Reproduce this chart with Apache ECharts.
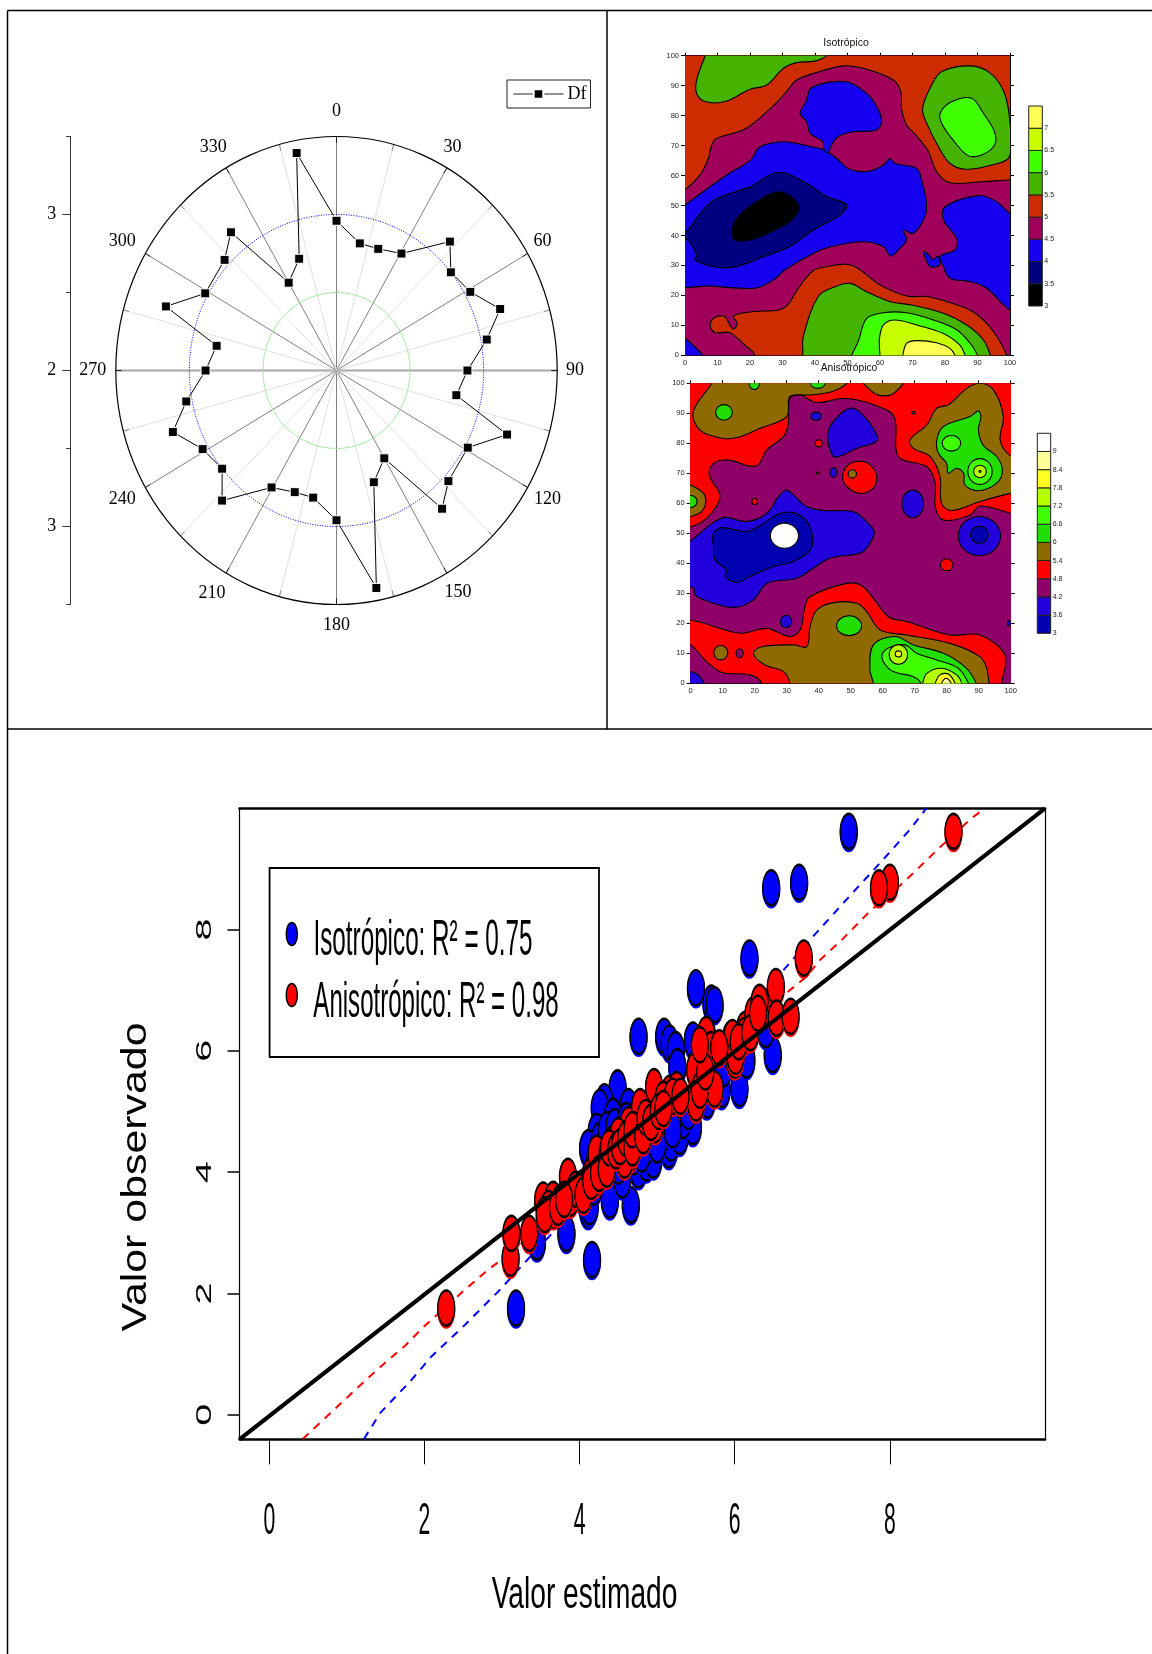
<!DOCTYPE html>
<html>
<head>
<meta charset="utf-8">
<style>html,body{margin:0;padding:0;background:#fff}#c{width:1152px;height:1654px}</style>
<script src="https://cdn.jsdelivr.net/npm/echarts@6/dist/echarts.min.js"></script>
</head>
<body>
<div id="c"></div>
<script>
// ---------- Polar panel ----------
const dfAngles = [0,11,20,30.5,43,51,61,70.5,79,90,101,109.5,119,133,141,150,160.5,169,180,191,200,210.5,223,231,241,250.5,259,270,281,289.5,299,313,321,330,340.5,349];
const dfRadii = [2.96,2.83,2.83,2.87,3.13,3.00,3.04,3.18,3.04,2.89,2.83,3.23,3.02,3.04,3.14,2.65,2.76,3.42,2.96,2.83,2.83,2.87,3.14,3.00,3.04,3.18,3.04,2.89,2.83,3.23,3.02,3.04,3.14,2.65,2.76,3.42];
const spokeAngles = [0,15,30,45,60,75,90,105,120,135,150,165,180,195,210,225,240,255,270,285,300,315,330,345];
const ringRadii = [2.5,3,3.5];
const angleLabels = [0,30,60,90,120,150,180,210,240,270,300,330];
const labelAngles = [0,28.8,59.3,90,119.9,149.8,180,210.7,240.5,270,299.7,329.7];
const labelRadii = [3.663,3.636,3.628,3.621,3.655,3.642,3.636,3.659,3.673,3.657,3.677,3.661];

// ---------- Contour panels: polygons in data units (x, y) ----------
const isoOrangeTop = [[-10,50],[0,55.4],[4.6,60.2],[7.2,65.7],[8.2,70.2],[9.7,72.4],[18.5,75.5],[26.7,82.8],[30.8,87.4],[34.4,91.9],[41.5,94.7],[48.7,96.6],[54.9,95.8],[64.1,91.9],[66.4,88],[66.7,81.9],[68.2,76.9],[71.3,73.2],[74.9,68],[77.4,61.3],[81.5,57.6],[91.8,58],[100,58.5],[112,58.6],[112,112],[-12,112]];
const isoOrangeBottom = [[21.5,0],[18.5,3.4],[14.9,6.8],[13.3,7.7],[9.2,7.6],[7.7,10.1],[9.2,12.7],[12.3,12.9],[13.8,10.1],[14.9,8.7],[16.1,10.7],[14.9,13.1],[21,14.6],[28.7,15.1],[31.8,17.1],[34.9,22.4],[39.5,28.3],[44.6,29.8],[49.7,30.4],[53.3,29],[60,23.5],[68.2,19.8],[74.4,19.6],[81.5,17.6],[87.7,15.1],[92.8,10.7],[96.9,4.6],[99,0],[100.5,-5],[21,-6]];
const isoBlueMain = [[-8,44],[0,50.2],[12.8,60.2],[20,65],[23.1,69.6],[30.3,71.3],[37.4,70],[42.6,68.7],[44.1,67.7],[46.7,65.7],[50.8,62],[56.9,61.5],[61,63.5],[63.1,65.7],[64.6,64.1],[71.3,62.4],[72.8,58.5],[74.2,51.8],[74,46.8],[70.3,40.7],[67.2,41.8],[68.2,38.5],[65.6,35.1],[63.3,33.1],[61,36.3],[54.9,37.9],[45.1,36.3],[39.5,34],[30.8,28.5],[27.2,25.1],[21.5,22.4],[7.2,23.1],[0,22.6],[-8,22.6]];
const isoBlueLobe = [[39,89.4],[49.7,91.3],[55.9,87.4],[59,83],[60.5,78.3],[59,75.2],[51.8,74.6],[47.2,73],[45.1,70.2],[44.1,67.6],[42.8,68.7],[42.4,71.3],[38.5,74.1],[37.4,78],[35.4,80.8],[37.2,84.6]];
const isoBlueRight = [[80,49.6],[90.3,53.3],[95.9,51.3],[100,47.4],[110,42],[110,10],[100,15.1],[92.8,22.4],[87.7,24.6],[81.5,25.7],[79.5,29.6],[78.5,33.1],[83.1,35.2],[83.6,39],[79.5,45.2]];
const isoBlueBlob = [[73.3,34.6],[75,33.6],[76.2,32],[77.9,33.1],[78.3,30.1],[75.4,29.6],[73.8,32.9]];
const isoBlueCorner = [[-6,9],[0,5.7],[5.6,0],[9,-5],[-6,-5]];
const isoNavy = [[-5,36],[0,40.7],[8.2,51.3],[20,56.3],[28.7,61.1],[37.4,57.4],[43.6,53],[49.7,50.2],[47.7,46.8],[39.5,41.8],[32.3,36.3],[24.1,32.9],[15.9,29.6],[9.7,29.4],[3.1,31.8],[3.6,33.5],[0,39]];
const isoBlack = [[15.9,45.7],[25.6,53.5],[30.3,54.3],[34.9,50.2],[33.8,46.3],[29.7,42.9],[20,38.5],[14.9,39]];
const isoGreenTopLeft = [[6.2,100],[3.6,91.9],[3.6,87.4],[6.2,84.7],[12.3,84.7],[20,88.8],[25.1,90.2],[30.3,95.8],[34.4,97.7],[40,98.2],[43.6,100],[48,106],[8,106]];
const isoGreenTopRight = [[79,94.7],[87.2,96.6],[93.3,94.7],[97.9,88.5],[99.8,79.6],[99.8,66.3],[94.4,63.5],[86.2,62.1],[81.5,64.1],[78,69.6],[74.4,77.4],[73.1,82.4],[75.9,90.2]];
const isoBrightTop = [[78.5,80.8],[82,84.6],[88.2,85.8],[91.8,80.8],[95.4,74.1],[94.9,69.6],[90.3,66.5],[86.7,66.9],[82.1,72.4],[79,77.4]];
const isoGreenBottom = [[36.2,0],[36.4,6.2],[41,19.6],[46.2,22.9],[50.8,24],[55.9,21.2],[63.1,17.9],[69.7,16.8],[79.5,14],[86.7,10.1],[91.8,5.1],[94,0],[96,-6],[35,-6]];
const isoBrightBottom = [[51.3,0],[53.3,4.6],[55.9,12.3],[61,14.2],[68.2,14.2],[76.4,11.8],[83.6,8.5],[88.2,3.4],[90,0],[92,-5],[50,-5]];
const isoLime = [[60,0],[59.8,5.1],[61,10.1],[64.6,11.8],[71.3,10.1],[79.5,7.3],[84.6,3.4],[86.2,0],[88,-5],[60,-5]];
const isoYellow = [[67,0],[68.2,4],[71.3,4.9],[77.4,4.2],[81.5,2.3],[83.1,0],[85,-5],[66,-5]];

const aniRedTop = [[-10,50],[0,52.2],[5,55],[9.2,62.2],[5.8,69.4],[7.1,73.3],[11.8,74.4],[18.5,72.4],[21.1,72.8],[23.8,77.8],[29,82.2],[30.5,86.7],[31,95],[34.1,96.1],[39.4,93.6],[48.8,95],[61.3,91.1],[63.9,87.8],[64.9,75.6],[73.8,72.2],[76.4,66.7],[76.4,58.9],[79,54.4],[87.3,56.1],[90.4,59.1],[100,56.7],[112,54],[112,112],[-12,112]];
const aniRedBottom = [[-10,21],[0,21.1],[15.4,16.7],[23.8,18.3],[31,15.6],[34.2,17.8],[35.7,25.6],[37.3,28.9],[48.8,33.3],[53.9,32.2],[61.8,22.2],[67.5,20.6],[81,16.1],[90.4,16.1],[98.2,9.4],[97.2,0],[97,-6],[22,-6],[22.2,0],[18.5,2.8],[9.7,3.6],[5,7.2],[0,12.8],[-10,18]];
const aniRedMid = [[47.5,69.4],[49.8,73.3],[55,73.6],[58.1,69.4],[57,65],[52.9,63.3],[48.8,65.6]];
const aniBrownTopLeft = [[6.6,100],[0.8,90.6],[2.9,84.4],[9.7,81.7],[14.9,82],[21.7,85],[30,88.9],[31,95.6],[37.3,96.1],[44,97.2],[48.8,100],[52,106],[9,106]];
const aniBrownTopMid = [[54,100],[58.1,96.3],[62.8,96.3],[66.5,100],[70,106],[50,106]];
const aniBrownRight = [[100,75.8],[96.7,81.1],[97.7,88.9],[94.6,97.8],[90.4,100],[86.3,98.3],[80.5,92.8],[76.9,91.7],[73.8,86.1],[68.5,81.1],[69.6,78.3],[74.8,75.6],[77.9,68.9],[78.4,60],[81.6,57.6],[90.4,60.6],[100,63.3],[110,65],[110,72]];
const aniBrownLeft = [[-6,68],[0,66.1],[4,63.3],[4.7,60.6],[3.4,57.2],[0,55.6],[-6,54]];
const aniBrownBottom = [[19.6,10],[22.2,12.2],[32.1,12.8],[36.3,12.2],[37.3,18.9],[39.4,24.4],[44.6,26.9],[51.9,26.7],[55,23.9],[59.2,17.8],[67.5,16.1],[81,13.3],[90.4,8.9],[92.5,5],[93.2,0],[94,-6],[31,-6],[31,0],[29,3.9],[23.2,6.1]];
const aniGreenBottom = [[56,4.4],[57.1,12.8],[63.9,15.6],[69.6,12.8],[79,10],[86.2,5],[89.2,0],[91,-6],[57,-6],[57.1,0]];
const aniBrightBottom = [[60,10],[62.3,12],[67,12.8],[70.6,10],[76.9,7.8],[83.6,5],[86.8,0],[88,-5],[72,-5],[71.9,0],[69.6,2.2],[63.3,3.9],[60.2,7.2]];
const aniLimeBottom = [[72.5,0],[73.8,3.3],[78.4,5],[83.1,2.8],[84.7,0],[85,-4],[72,-4]];
const aniYellowBottom = [[76.4,0],[77.9,2.8],[80.5,3.1],[82.6,0],[83,-3],[76,-3]];
const aniPaleBottom = [[78.4,0],[79.8,1.7],[81.4,0],[81.6,-2],[78.2,-2]];
const aniGreenRight = [[76.9,81.1],[79,85.6],[87.3,88.9],[89.9,90.8],[90.7,88.9],[89.9,84.4],[91.4,79.4],[95.6,75.6],[97.4,71.1],[95.6,66.7],[89.9,64.2],[85.7,66.1],[85.3,70],[83.1,71.7],[80.5,70],[80,73.3],[77.4,76.7]];
const aniBlueMain = [[-8,44],[0,47.6],[6,52.8],[10.7,55.3],[17.5,53.9],[23.8,56.7],[27.4,62.2],[30,64.4],[36.3,58.9],[41.5,57.6],[51,57.2],[55.5,53.3],[57.4,50.2],[55,45],[52.9,43.3],[43.5,41.7],[38.3,38.3],[33.1,35],[23.8,33.3],[19.6,27.8],[13.9,25.3],[7.1,26.7],[1.4,29.4],[1,31.7],[0,32.2],[-8,33]];
const aniNavyMain = [[7.1,45.6],[7.1,50],[9.7,51.9],[17.5,50.6],[22.7,53.3],[27.4,56.4],[32.1,56.9],[36.3,53.9],[38.1,48.9],[37.3,44.4],[32.1,40.6],[25.8,38.9],[18.5,35.6],[14.4,33.6],[10.7,35.6],[11.2,37.8],[7.6,41.1]];
const aniBlueTop = [[43.5,85.6],[47.7,90.6],[50.8,91.7],[53.9,89.4],[57.1,85],[58.3,80.9],[51.9,78.3],[45.1,75.3],[43.5,77.8],[42.8,82.2]];
const aniBlueCorner = [[-6,6],[0,3.9],[2.4,2.8],[4.2,0],[6,-5],[-6,-5]];
// small closed contours: level index, x, y, radius x, radius y
const aniOvals = [[7,40,80,1.1,1.2],[7,20,60.6,0.9,1],[7,80,39.5,2,2],[7,39.7,70,0.5,0.4],[6,9.4,10.2,2.2,2.4],[8,15.3,10,1.1,1.5],[8,69.6,90.2,0.5,0.5],[9,29.8,20.6,1.8,2.1],[9,44.6,70.3,1.1,1.6],[9,39.2,89,1.7,1.4],[9,69.4,59.8,3.4,4.6],[9,90.2,49.1,6.6,6.5],[9,99.6,20,0.6,0.9],[10,90.2,49.5,2.8,2.9],[5,10.4,90.3,2.6,2.6],[5,49.5,19.2,3.9,3.3],[5,19.9,99.8,1.6,1.9],[5,39.7,100.3,2.4,2],[5,0,60.6,2,2],[6,50.5,69.8,1.3,1.4],[4,81.5,80,2.9,2.6],[4,90.4,70.6,3.8,4.3],[3,90.4,70.6,2,2.1],[2,90.4,70.6,0.3,0.3],[3,64.9,9.6,2.9,3.3],[2,64.9,9.8,1,1],[0,29.3,49.2,4.4,4.2]];

const isoLevels = [3,3.5,4,4.5,5,5.5,6,6.5,7];
const isoColors = ['#000000','#000080','#1600f0','#a0005a','#cc2c00','#44b400','#40ff00','#c8ff00','#ffff55'];
const aniLevels = [3,3.6,4.2,4.8,5.4,6,6.6,7.2,7.8,8.4,9];
const aniColors = ['#0000b0','#2200dd','#8f0068','#ff0000','#8f6a00','#22dd00','#40ff00','#b4ff00','#ffff20','#ffff99','#ffffff'];
const aniPal = ['#ffffff','#ffff99','#ffff20','#b4ff00','#40ff00','#22dd00','#8f6a00','#ff0000','#8f0068','#2200dd','#0000b0'];

// ---------- Scatter panel ----------
const isoEst = [3.18,4.16,3.83,3.45,4.11,4.13,4.39,4.66,4.55,4.76,4.86,4.95,5.15,5.18,5.29,5.46,5.33,5.64,5.83,6.06,6.15,6.49,4.76,5.09,5.16,5.24,5.26,5.46,5.5,5.7,5.74,6.19,4.49,4.32,4.26,4.63,4.43,4.22,4.11,4.26,4.35,4.05,4.5,4.7,4.85,5.05,5.4,5.55,5.75,5.95,6.3,6.47,6.83,7.47,6.4,4.35,4.45,4.55,4.65,4.8,5,5.2,4.3,4.2,4.6,4.75,5,4.18,4.05,5.65,5.85];
const isoObs = [1.76,2.56,2.99,2.85,3.38,3.43,3.54,3.46,3.87,4.04,4.15,4.2,4.37,4.48,4.59,4.75,4.85,5.19,5.36,5.38,5.85,5.94,6.24,6.24,6.13,6.02,5.74,6.18,7.04,6.79,6.76,7.53,5.39,5.16,5.07,5.08,4.92,4.67,4.4,4.53,4.36,3.75,4.1,4.25,4.4,4.6,5.0,5.5,5.85,6.2,6.5,8.69,8.78,9.62,6.35,4.7,4.75,4.5,4.4,4.3,4.45,4.7,4.25,4.2,4.85,4.95,5.1,3.75,3.6,5.5,5.7];
const aniEst = [2.28,3.11,3.12,3.35,3.53,3.66,3.7,3.85,3.88,3.66,4.14,4.3,4.22,4.43,4.65,4.73,4.63,4.78,4.96,5.16,5.25,4.99,4.97,5.5,5.49,5.74,5.69,5.64,5.96,6,6.13,6.24,6.39,6.53,6.54,6.72,8.82,8.0,7.86,6.89,6.32,5.97,5.63,5.69,6.01,6.12,3.6,3.75,3.95,4.05,4.2,4.36,4.5,4.58,4.7,4.85,5.08,5.2,3.55,3.72,3.8,4.15,4.25,4.35,4.38,4.47,4.52,4.6,4.68,4.68,4.82,4.85,4.92,5.02,5.08,5.3,5.55,5.62,5.8,6.05,6.2,6.3,5.55];
const aniObs = [1.76,2.58,2.99,2.99,3.54,3.38,3.43,3.93,3.57,3.55,3.93,4.15,4.31,4.48,4.31,4.53,4.78,5.08,5.41,5.3,5.36,4.92,4.78,5.14,5.69,5.37,6.02,6.27,6.18,5.85,6.35,6.6,6.73,7.06,6.54,6.57,9.62,8.78,8.69,7.53,6.8,6.22,6.27,6.02,5.91,6.25,3.4,3.5,3.72,3.62,3.9,4.3,4.6,4.2,4.7,4.75,5.2,5.25,3.3,3.42,3.55,3.85,3.98,4.05,4.4,4.35,4.42,4.55,4.4,4.7,4.6,4.9,4.82,5,5.05,5.25,5.35,5.65,6.05,6.15,6.3,6.62,6.1];
const isoTrendX = [1.22,1.43,1.83,2.09,2.52,2.95,3.41,3.8,4.5,5,5.5,6,6.6,6.97,7.48,7.91,8.26,8.47];
const isoTrendY = [-0.4,0.03,0.57,0.96,1.48,2.03,2.67,3.2,4.15,4.85,5.55,6.3,7.29,7.83,8.55,9.15,9.65,10];
const aniTrendX = [0.43,1.2,1.46,1.76,1.99,2.52,2.82,3.07,3.5,4,4.5,5,5.5,6,6.69,6.93,7.1,7.38,7.74,8.17,8.64,9.03,9.22];
const aniTrendY = [-0.4,0.52,0.82,1.15,1.45,2.06,2.39,2.63,3.15,3.75,4.3,4.85,5.45,6.05,6.98,7.23,7.5,7.83,8.3,8.77,9.35,9.81,10];
const scatterTicks = [0,2,4,6,8];

// ---------- Helpers ----------
const SERIF = '"Liberation Serif"', SANS = '"Liberation Sans"';
const rad = d => d * Math.PI / 180;
const toXY = (a, r) => [(r - 2) * Math.sin(rad(a)), (r - 2) * Math.cos(rad(a))];
const zipXY = (a, b) => a.map((v, i) => [v, b[i]]);
const I = isoColors, A = aniColors;
const poly = (c, p) => ({ c, p });
const isoShapes = [
  poly(I[3], [[-20,-20],[120,-20],[120,120],[-20,120]]),
  poly(I[4], isoOrangeTop), poly(I[4], isoOrangeBottom),
  poly(I[2], isoBlueMain), poly(I[2], isoBlueLobe), poly(I[2], isoBlueRight), poly(I[2], isoBlueBlob), poly(I[2], isoBlueCorner),
  poly(I[1], isoNavy), poly(I[0], isoBlack),
  poly(I[5], isoGreenTopLeft), poly(I[5], isoGreenTopRight), poly(I[5], isoGreenBottom),
  poly(I[6], isoBrightTop), poly(I[6], isoBrightBottom), poly(I[7], isoLime), poly(I[8], isoYellow)
];
const aniShapes = [
  poly(A[2], [[-20,-20],[120,-20],[120,120],[-20,120]]),
  poly(A[3], aniRedTop), poly(A[3], aniRedBottom), poly(A[3], aniRedMid),
  poly(A[4], aniBrownTopLeft), poly(A[4], aniBrownTopMid), poly(A[4], aniBrownRight), poly(A[4], aniBrownLeft), poly(A[4], aniBrownBottom),
  poly(A[5], aniGreenBottom), poly(A[6], aniBrightBottom), poly(A[7], aniLimeBottom), poly(A[8], aniYellowBottom), poly(A[9], aniPaleBottom),
  poly(A[5], aniGreenRight),
  poly(A[1], aniBlueMain), poly(A[0], aniNavyMain), poly(A[1], aniBlueTop), poly(A[1], aniBlueCorner)
].concat(aniOvals.map(o => ({ c: aniPal[o[0]], o })));

function contourSeries(name, shapes, xi, yi) {
  return {
    name, type: 'custom', coordinateSystem: 'cartesian2d', xAxisIndex: xi, yAxisIndex: yi, clip: true, silent: true,
    data: shapes.map((s, i) => [i, i]),
    renderItem(p, api) {
      const s = shapes[p.dataIndex];
      const style = { fill: s.c, stroke: '#000', lineWidth: 1.1 };
      if (s.o) {
        const c = api.coord([s.o[1], s.o[2]]), e = api.coord([s.o[1] + s.o[3], s.o[2] + s.o[4]]);
        return { type: 'ellipse', shape: { cx: c[0], cy: c[1], rx: e[0] - c[0], ry: c[1] - e[1] }, style };
      }
      return { type: 'polygon', shape: { points: s.p.map(q => api.coord(q)), smooth: s.p.length > 4 ? 0.35 : 0 }, style };
    }
  };
}
function barSeries(name, levels, colors, step, xi, yi) {
  return {
    name, type: 'custom', coordinateSystem: 'cartesian2d', xAxisIndex: xi, yAxisIndex: yi, silent: true,
    data: levels.map(l => [0, l]),
    renderItem(p, api) {
      const lo = levels[p.dataIndex];
      const a = api.coord([0, lo + step]), b = api.coord([1, lo]);
      return { type: 'rect', shape: { x: a[0], y: a[1], width: b[0] - a[0], height: b[1] - a[1] }, style: { fill: colors[p.dataIndex], stroke: '#222', lineWidth: 1 } };
    }
  };
}
function stretchedText(text, x, y, size, sx, rot) {
  return { type: 'text', x, y, scaleX: sx, rotation: rot || 0, z: 60,
    style: { text, font: size + 'px ' + SANS, fill: '#000', align: 'center', verticalAlign: 'middle' } };
}
function smallX(grid, top) {
  return { gridIndex: grid, type: 'value', position: top ? 'top' : 'bottom', min: 0, max: 100, interval: 10,
    axisLine: { onZero: false, lineStyle: { color: '#000', width: 1 } },
    axisTick: { show: !!top, length: 3, inside: false, lineStyle: { color: '#000' } },
    axisLabel: { show: !top, fontSize: 7.5, fontFamily: SANS, color: '#222', margin: 4 }, splitLine: { show: false } };
}
function smallY(grid, right) {
  return { gridIndex: grid, type: 'value', position: right ? 'right' : 'left', min: 0, max: 100, interval: 10,
    axisLine: { onZero: false, lineStyle: { color: '#000', width: 1 } },
    axisTick: { show: true, length: 4, lineStyle: { color: '#000' } },
    axisLabel: { show: !right, fontSize: 7.5, fontFamily: SANS, color: '#222', margin: 6 }, splitLine: { show: false } };
}
function hiddenX(grid) { return { gridIndex: grid, type: 'value', min: 0, max: 1, show: false }; }
function barY(grid, min, max, step) {
  return { gridIndex: grid, type: 'value', position: 'right', min, max, interval: step,
    axisLine: { show: false, onZero: false }, axisTick: { show: false }, splitLine: { show: false },
    axisLabel: { fontSize: 7, fontFamily: SANS, color: '#222', margin: 2,
      formatter: v => v >= max - 1e-6 ? '' : (Math.abs(v - Math.round(v)) < 1e-6 ? String(Math.round(v)) : v.toFixed(1)) } };
}

const ellipseSymbol = 'path://M0,-10A10,10 0 0 1 0,10A10,10 0 0 1 0,-10Z';
function pointSeries(name, xs, ys, color, z) {
  return { name, type: 'scatter', xAxisIndex: 7, yAxisIndex: 8, data: zipXY(xs, ys), symbol: ellipseSymbol, symbolSize: [17, 35], z, clip: false, silent: true,
    itemStyle: { color, opacity: 1, borderColor: '#000', borderWidth: 1.8, shadowColor: color, shadowOffsetY: 2, shadowBlur: 0 } };
}

const option = {
  animation: false,
  backgroundColor: '#fff',
  title: [
    { text: 'Isotrópico', left: 846, top: 37.5, textAlign: 'center', textStyle: { fontSize: 10.5, fontWeight: 'normal', fontFamily: SANS, color: '#111' }, padding: 0 },
    { text: 'Anisotrópico', left: 849, top: 363.5, textAlign: 'center', textStyle: { fontSize: 10.3, fontWeight: 'normal', fontFamily: SANS, color: '#111' }, padding: 0 }
  ],
  legend: [{ data: ['Df'], left: 507, top: 80, padding: [5, 4, 5, 6], itemWidth: 50, itemHeight: 12, itemGap: 4,
    lineStyle: { width: 1, color: '#222' },
    borderColor: '#222', borderWidth: 1, backgroundColor: '#fff', textStyle: { fontFamily: SERIF, fontSize: 18, color: '#000', padding: [0, 0, 0, -1] } }],
  grid: [
    { left: 115.8, top: 136.5, width: 441.4, height: 468 },
    { left: 685, top: 55.7, width: 325, height: 299.6 },
    { left: 1028.7, top: 106, width: 13.6, height: 200 },
    { left: 690.7, top: 383.3, width: 320, height: 300 },
    { left: 1037.3, top: 433.3, width: 13.4, height: 200 },
    { left: 239.5, top: 808.3, width: 805.5, height: 631 }
  ],
  xAxis: [
    { gridIndex: 0, type: 'value', min: -1.5, max: 1.5, interval: 0.5, show: false },
    smallX(1, false), smallX(1, true), hiddenX(2),
    smallX(3, false), smallX(3, true), hiddenX(4),
    { gridIndex: 5, type: 'value', min: -0.385, max: 10, position: 'bottom',
      axisLine: { onZero: false, lineStyle: { color: '#000', width: 2.5 } },
      axisTick: { customValues: scatterTicks, length: 25, lineStyle: { color: '#000', width: 1 } },
      axisLabel: { show: false }, splitLine: { show: false } },
    { gridIndex: 5, type: 'value', min: -0.385, max: 10, position: 'top',
      axisLine: { onZero: false, lineStyle: { color: '#000', width: 2.5 } },
      axisTick: { show: false }, axisLabel: { show: false }, splitLine: { show: false } }
  ],
  yAxis: [
    { gridIndex: 0, type: 'value', min: -1.5, max: 1.5, interval: 0.5, position: 'left', offset: 45.5,
      axisLine: { onZero: false, lineStyle: { color: '#333', width: 1 } },
      axisTick: { length: 4, lineStyle: { color: '#333' } }, axisLabel: { show: false }, splitLine: { show: false } },
    { gridIndex: 0, type: 'value', min: -1.5, max: 1.5, interval: 0.5, position: 'left', offset: 45.5,
      axisLine: { show: false, onZero: false },
      axisTick: { customValues: [-1, 0, 1], length: 8, lineStyle: { color: '#333' } },
      axisLabel: { customValues: [-1, 0, 1], fontFamily: SERIF, fontSize: 18, color: '#000', margin: 14, formatter: v => String(Math.abs(v) + 2) },
      splitLine: { show: false } },
    smallY(1, false), smallY(1, true), barY(2, 3, 7.5, 0.5),
    smallY(3, false), smallY(3, true), barY(4, 3, 9.6, 0.6),
    { gridIndex: 5, type: 'value', min: -0.406, max: 10, position: 'left',
      axisLine: { onZero: false, lineStyle: { color: '#000', width: 1.2 } },
      axisTick: { customValues: scatterTicks, length: 12, lineStyle: { color: '#000', width: 1.5 } },
      axisLabel: { show: false }, splitLine: { show: false } },
    { gridIndex: 5, type: 'value', min: -0.406, max: 10, position: 'right',
      axisLine: { onZero: false, lineStyle: { color: '#000', width: 1.2 } },
      axisTick: { show: false }, axisLabel: { show: false }, splitLine: { show: false } }
  ],
  graphic: [
    // panel frame
    { type: 'line', shape: { x1: 7.5, y1: 10.5, x2: 1152, y2: 10.5 }, style: { stroke: '#000', lineWidth: 1.5 } },
    { type: 'line', shape: { x1: 7.5, y1: 10.5, x2: 7.5, y2: 1654 }, style: { stroke: '#000', lineWidth: 1.5 } },
    { type: 'line', shape: { x1: 607, y1: 10.5, x2: 607, y2: 729 }, style: { stroke: '#000', lineWidth: 1.5 } },
    { type: 'line', shape: { x1: 7.5, y1: 729, x2: 1152, y2: 729 }, style: { stroke: '#000', lineWidth: 1.5 } },
    // scatter legend
    { type: 'rect', z: 50, shape: { x: 269.6, y: 868, width: 329.4, height: 189 }, style: { fill: '#fff', stroke: '#000', lineWidth: 1.8 } },
    { type: 'ellipse', z: 51, shape: { cx: 291.8, cy: 934, rx: 5.6, ry: 11.5 }, style: { fill: '#0000ff', stroke: '#000', lineWidth: 1.4 } },
    { type: 'ellipse', z: 51, shape: { cx: 291.8, cy: 995, rx: 5.6, ry: 11.5 }, style: { fill: '#ff0000', stroke: '#000', lineWidth: 1.4 } },
    stretchedText('Isotrópico: R² = 0.75', 423, 941, 50, 0.485),
    stretchedText('Anisotrópico: R² = 0.98', 436, 1003, 50, 0.481),
    // scatter axis titles
    stretchedText('Valor estimado', 584.5, 1596, 44, 0.64),
    stretchedText('Valor observado', 136, 1177, 35, 1.225, Math.PI / 2)
  ],
  series: [
    // rings and spokes of the polar panel
    { name: 'spokes', type: 'custom', coordinateSystem: 'cartesian2d', xAxisIndex: 0, yAxisIndex: 0, silent: true, z: 1,
      data: spokeAngles.map(a => [a, 0]),
      renderItem(p, api) {
        const a = spokeAngles[p.dataIndex], major = a % 30 === 0, axisH = a === 90 || a === 270;
        const c = api.coord([0, 0]), e = api.coord(toXY(a, 3.5)), t = api.coord(toXY(a, 3.46));
        return { type: 'group', children: [
          { type: 'line', shape: { x1: c[0], y1: c[1], x2: e[0], y2: e[1] },
            style: { stroke: axisH ? '#a8a8a8' : major ? '#808080' : '#e2e2e2', lineWidth: axisH ? 1.8 : 1 } },
          { type: 'line', shape: { x1: t[0], y1: t[1], x2: e[0], y2: e[1] }, style: { stroke: major ? '#222' : '#888', lineWidth: 1 } }
        ] };
      } },
    { name: 'rings', type: 'custom', coordinateSystem: 'cartesian2d', xAxisIndex: 0, yAxisIndex: 0, silent: true, z: 2,
      data: ringRadii.map(r => [r - 2, 0]),
      renderItem(p, api) {
        const r = ringRadii[p.dataIndex] - 2;
        const c = api.coord([0, 0]), e = api.coord([r, r]);
        const st = [{ stroke: '#a4eca4', lineWidth: 1 }, { stroke: '#0000ff', lineWidth: 1, lineDash: [1, 1.5] }, { stroke: '#000', lineWidth: 1.2 }][p.dataIndex];
        return { type: 'ellipse', shape: { cx: c[0], cy: c[1], rx: e[0] - c[0], ry: c[1] - e[1] }, style: Object.assign({ fill: 'none' }, st) };
      } },
    { name: 'Df', type: 'line', xAxisIndex: 0, yAxisIndex: 0, z: 5, clip: false, silent: true,
      data: dfAngles.concat(dfAngles[0]).map((a, i) => toXY(a, dfRadii[i % dfRadii.length])),
      symbol: 'rect', symbolSize: 9, showAllSymbol: true,
      itemStyle: { color: '#000', borderColor: '#fff', borderWidth: 1 },
      lineStyle: { color: '#000', width: 1 } },
    { name: 'angleLabels', type: 'custom', coordinateSystem: 'cartesian2d', xAxisIndex: 0, yAxisIndex: 0, silent: true, z: 6,
      data: angleLabels.map(a => [a, 0]),
      renderItem(p, api) {
        const i = p.dataIndex, c = api.coord(toXY(labelAngles[i], labelRadii[i]));
        return { type: 'text', x: c[0], y: c[1], style: { text: String(angleLabels[i]), font: '18px ' + SERIF, fill: '#000', align: 'center', verticalAlign: 'middle' } };
      } },
    // contour panels
    contourSeries('Isotrópico mapa', isoShapes, 1, 2),
    barSeries('Isotrópico escala', isoLevels, isoColors, 0.5, 3, 4),
    contourSeries('Anisotrópico mapa', aniShapes, 4, 5),
    barSeries('Anisotrópico escala', aniLevels, aniColors, 0.6, 6, 7),
    // scatter panel
    { name: 'Isotrópico tendencia', type: 'line', xAxisIndex: 7, yAxisIndex: 8, data: zipXY(isoTrendX, isoTrendY), symbol: 'none', z: 3, silent: true,
      lineStyle: { color: '#0000ff', width: 2, type: [8, 7] } },
    { name: 'Anisotrópico tendencia', type: 'line', xAxisIndex: 7, yAxisIndex: 8, data: zipXY(aniTrendX, aniTrendY), symbol: 'none', z: 3, silent: true,
      lineStyle: { color: '#ff0000', width: 2, type: [8, 7] } },
    pointSeries('Isotrópico', isoEst, isoObs, '#0000ff', 4),
    pointSeries('Anisotrópico', aniEst, aniObs, '#ff0000', 5),
    { name: '1:1', type: 'line', xAxisIndex: 7, yAxisIndex: 8, data: [[-0.385, -0.406], [10, 10]], symbol: 'none', z: 6, silent: true,
      lineStyle: { color: '#000', width: 4.2 } },
    { name: 'ejeX', type: 'custom', coordinateSystem: 'cartesian2d', xAxisIndex: 7, yAxisIndex: 8, silent: true, z: 7,
      data: scatterTicks.map(v => [v, 0]),
      renderItem(p, api) {
        const v = scatterTicks[p.dataIndex], c = api.coord([v, 0]);
        return { type: 'group', children: [
          { type: 'text', x: c[0], y: 1522, scaleX: 0.48, style: { text: String(v), font: '44px ' + SANS, fill: '#000', align: 'center', verticalAlign: 'middle' } },
          { type: 'text', x: 204.5, y: api.coord([0, v])[1], scaleX: 1.8, rotation: Math.PI / 2, style: { text: String(v), font: '22px ' + SANS, fill: '#000', align: 'center', verticalAlign: 'middle' } }
        ] };
      } }
  ]
};
const chart = echarts.init(document.getElementById('c'), null, { renderer: 'canvas', width: 1152, height: 1654 });
chart.setOption(option);
</script>
</body>
</html>
